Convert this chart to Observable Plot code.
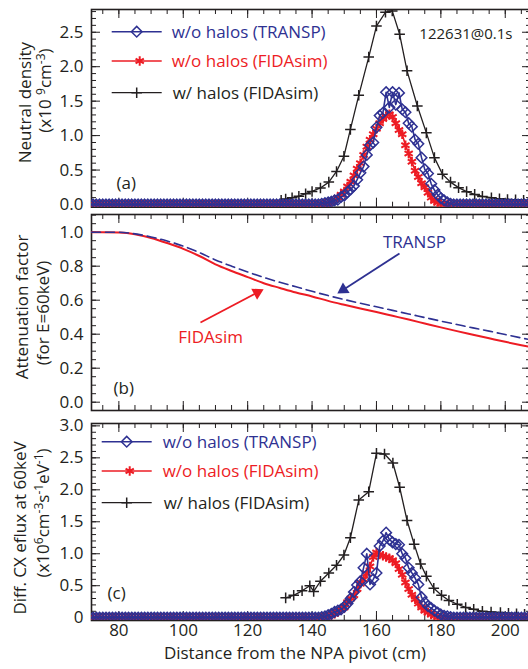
<!DOCTYPE html>
<html><head><meta charset="utf-8">
<script src="https://cdn.jsdelivr.net/npm/d3@7"></script>
<script src="https://cdn.jsdelivr.net/npm/@observablehq/plot@0.6"></script>
<style>
html,body{margin:0;padding:0;background:#fff;overflow:hidden;}
#chart{position:relative;width:528px;height:669px;overflow:hidden;}
#chart svg{position:absolute;left:0;max-width:none;overflow:visible;}
</style></head><body><div id="chart"></div>
<script>
// ---------------- data ----------------
const seriesNames = ["w/o halos (TRANSP)", "w/o halos (FIDAsim)", "w/ halos (FIDAsim)"];
const panelTags = ["(a)", "(b)", "(c)"];
const shotLabel = "122631@0.1s";
const yTitlesA = ["Neutral density", "(x10 ^9cm^-3)"];
const yTitlesB = ["Attenuation factor", "(for E=60keV)"];
const yTitlesC = ["Diff. CX eflux at 60keV", "(x10^6cm^-3s^-1eV^-1)"];
const xTitle = "Distance from the NPA pivot (cm)";

const xTicks = [80, 100, 120, 140, 160, 180, 200];
const xTickLabels = ["80", "100", "120", "140", "160", "180", "200"];
const yTicksA = [0, 0.5, 1, 1.5, 2, 2.5];
const yTickLabelsA = ["0.0", "0.5", "1.0", "1.5", "2.0", "2.5"];
const yTicksB = [0, 0.2, 0.4, 0.6, 0.8, 1.0];
const yTickLabelsB = ["0.0", "0.2", "0.4", "0.6", "0.8", "1.0"];
const yTicksC = [0, 0.5, 1, 1.5, 2, 2.5, 3];
const yTickLabelsC = ["0", "0.5", "1.0", "1.5", "2.0", "2.5", "3.0"];

// shared grid (cm) of the two "w/o halos" series
const gridX = [71,72,73,74,75,76,77,78,79,80,81,82,83,84,85,86,87,88,89,90,
 91,92,93,94,95,96,97,98,99,100,101,102,103,104,105,106,107,108,109,110,
 111,112,113,114,115,116,117,118,119,120,121,122,123,124,125,126,127,128,129,130,
 131,132,133,134,135,136,137,138,139,140,141,142,143,144,145,146,147,148,149,150,
 151,152,153,154,155,156,157,158,159,160,161,162,163,164,165,166,167,168,169,170,
 171,172,173,174,175,176,177,178,179,180,181,182,183,184,185,186,187,188,189,190,
 191,192,193,194,195,196,197,198,199,200,201,202,203,204,205,206,207,208];

// (a) neutral density, 1e9 cm^-3
const densTRANSP = [
 0,0,0,0,0,0,0,0,0,0, 0,0,0,0,0,0,0,0,0,0, 0,0,0,0,0,0,0,0,0,0, 0,0,0,0,0,0,0,0,0,0,
 0,0,0,0,0,0,0,0,0,0, 0,0,0,0,0,0,0,0,0,0, 0,0,0,0,0,0,0,0,0,0,
 0,0,0.01,0.02,0.03,0.04,0.06,0.07,0.11,0.13,
 0.18,0.22,0.27,0.36,0.46,0.55,0.72,0.86,0.90,1.12,
 1.29,1.33,1.63,1.41,1.63,1.45,1.62,1.38,1.34,1.18,
 1.13,0.94,0.88,0.68,0.51,0.45,0.30,0.21,0.14,0.09,
 0.06,0.03,0.01,0,0,0,0,0,0,0,
 0,0,0,0,0,0,0,0,0,0, 0,0,0,0,0,0,0,0];
const densFIDA = [
 0,0,0,0,0,0,0,0,0,0, 0,0,0,0,0,0,0,0,0,0, 0,0,0,0,0,0,0,0,0,0, 0,0,0,0,0,0,0,0,0,0,
 0,0,0,0,0,0,0,0,0,0, 0,0,0,0,0,0,0,0,0,0, 0,0,0,0,0,0,0,0,0,0,
 0,0,0.005,0.01,0.02,0.04,0.07,0.10,0.14,0.19,
 0.26,0.33,0.42,0.52,0.60,0.72,0.84,0.94,1.02,1.10,
 1.18,1.24,1.28,1.31,1.27,1.18,1.08,1.02,0.86,0.74,
 0.62,0.49,0.40,0.31,0.25,0.17,0.10,0.05,0.03,0.01,
 0,0,0,0,0,0,0,0,0,0,
 0,0,0,0,0,0,0,0,0,0, 0,0,0,0,0,0,0,0];
const densHaloX = [130.4,131.8,133.8,135.9,138.0,140.0,142.6,145.2,147.6,149.9,
 151.9,154.5,157.6,160.0,162.8,164.9,167.2,169.5,172.7,175.5,
 178.0,180.5,183.0,185.5,188.0,190.5,192.9,195.7,198.2,200.7,203.2,205.7];
const densHalo = [0.06,0.08,0.097,0.12,0.157,0.19,0.24,0.325,0.48,0.70,
 1.09,1.585,2.14,2.59,2.79,2.81,2.47,1.94,1.43,1.04,
 0.68,0.44,0.325,0.245,0.187,0.147,0.118,0.098,0.083,0.073,0.068,0.063];

// (b) attenuation factor for E = 60 keV
const attX = [71.5,75,80,85,90,95,100,105,110,115,120,125,130,135,140,145,150,155,160,165,170,175,180,185,190,195,200,205,208.1];
const attFIDA = [1.0,1.0,0.998,0.988,0.966,0.936,0.902,0.86,0.811,0.772,0.736,0.70,0.672,0.645,0.622,0.596,0.573,0.551,0.530,0.508,0.486,0.463,0.440,0.418,0.397,0.376,0.355,0.335,0.323];
const attTRANSP = [1.0,1.0,1.0,0.99,0.972,0.948,0.918,0.88,0.837,0.80,0.766,0.734,0.705,0.679,0.652,0.627,0.604,0.582,0.561,0.540,0.519,0.498,0.477,0.457,0.437,0.418,0.398,0.378,0.366];
const annLabels = ["TRANSP", "FIDAsim"];
const annX = [171.8, 108.5], annY = [0.94, 0.382];
const arrowFromX = [167.15, 105.35], arrowFromY = [0.875, 0.469];
const arrowHeadX = [149.7, 123.0], arrowHeadY = [0.662, 0.645];

// (c) differential CX efflux at 60 keV, 1e6 cm^-3 s^-1 eV^-1
const effTRANSP = [
 0,0,0,0,0,0,0,0,0,0, 0,0,0,0,0,0,0,0,0,0, 0,0,0,0,0,0,0,0,0,0, 0,0,0,0,0,0,0,0,0,0,
 0,0,0,0,0,0,0,0,0,0, 0,0,0,0,0,0,0,0,0,0, 0,0,0,0,0,0,0,0,0,0,
 0,0,0.01,0.02,0.04,0.06,0.09,0.11,0.13,0.17,
 0.22,0.30,0.40,0.51,0.57,0.78,1.00,0.52,0.60,0.70,
 1.12,1.20,1.33,1.22,1.18,1.15,1.14,1.00,0.93,0.78,
 0.70,0.62,0.52,0.32,0.24,0.18,0.15,0.11,0.08,0.05,
 0.03,0.02,0.01,0,0,0,0,0,0,0,
 0,0,0,0,0,0,0,0,0,0, 0,0,0,0,0,0,0,0];
const effFIDA = [
 0,0,0,0,0,0,0,0,0,0, 0,0,0,0,0,0,0,0,0,0, 0,0,0,0,0,0,0,0,0,0, 0,0,0,0,0,0,0,0,0,0,
 0,0,0,0,0,0,0,0,0,0, 0,0,0,0,0,0,0,0,0,0, 0,0,0,0,0,0,0,0,0,0,
 0,0,0,0.01,0.02,0.04,0.06,0.09,0.12,0.16,
 0.24,0.30,0.35,0.45,0.53,0.60,0.69,0.80,0.95,1.02,
 0.99,0.97,0.95,0.93,0.90,0.85,0.76,0.67,0.55,0.45,
 0.36,0.29,0.22,0.16,0.11,0.08,0.05,0.03,0.01,0,
 0,0,0,0,0,0,0,0,0,0,
 0,0,0,0,0,0,0,0,0,0, 0,0,0,0,0,0,0,0];
const effHaloX = [131.8,134.3,136.9,139.3,140.5,142.6,145.2,147.6,149.9,151.9,
 154.5,157.6,160.0,162.5,165.1,167.2,169.5,171.7,173.7,175.5,
 177.8,180.2,182.5,185.1,187.7,190.2,192.9,195.6,198.5,201.0,203.5,206.0];
const effHalo = [0.31,0.35,0.42,0.50,0.41,0.57,0.70,0.82,0.98,1.25,
 1.84,1.97,2.57,2.56,2.42,2.04,1.52,1.15,0.84,0.65,
 0.46,0.35,0.27,0.21,0.16,0.13,0.10,0.09,0.08,0.07,0.06,0.055];

// ---------------- styling ----------------
const INK = "#231f20", BLUE = "#2e3192", RED = "#ed1c24";
const FONT = "'Open Sans', Lato, sans-serif";
const W = 540, ML = 91, MR = 9, FW = W - ML - MR;
const xDomain = [71.5, 208.15];
const xMinor = d3.range(75, 206, 5);

const rows = (xs, ys) => xs.map((x, i) => ({x, y: ys[i]}));
const fmt = (ticks, labels) => d => labels[ticks.findIndex(t => Math.abs(t - d) < 1e-9)];

function frameTicks(frameH, yMajor, yMinor) {
  return [
    Plot.tickY(yMajor, {y: d => d, insetRight: FW - 9, stroke: INK}),
    Plot.tickY(yMinor, {y: d => d, insetRight: FW - 5, stroke: INK}),
    Plot.tickY(yMajor, {y: d => d, insetLeft: FW - 9, stroke: INK}),
    Plot.tickY(yMinor, {y: d => d, insetLeft: FW - 5, stroke: INK}),
    Plot.tickX(xTicks, {x: d => d, insetBottom: frameH - 9, stroke: INK}),
    Plot.tickX(xMinor, {x: d => d, insetBottom: frameH - 5, stroke: INK}),
    Plot.tickX(xTicks, {x: d => d, insetTop: frameH - 9, stroke: INK}),
    Plot.tickX(xMinor, {x: d => d, insetTop: frameH - 5, stroke: INK}),
    Plot.frame({stroke: INK, strokeWidth: 1.6})
  ];
}
const symbolStyle = [
  {color: BLUE, symbol: "diamond2", r: 4.8, sw: 1.5, lw: 1.6},
  {color: RED, symbol: "asterisk", r: 4.5, sw: 2, lw: 1.6},
  {color: INK, symbol: "plus", r: 3.5, sw: 1.5, lw: 1.3}
];
function series(data, k) {
  const s = symbolStyle[k];
  return [
    Plot.line(data, {x: "x", y: "y", stroke: s.color, strokeWidth: s.lw, clip: true}),
    Plot.dot(data, {x: "x", y: "y", symbol: s.symbol, r: s.r, stroke: s.color, strokeWidth: s.sw, fill: "none", clip: true})
  ];
}
function yTitle(lines, off) {
  return lines.map((t, i) => Plot.text([t], {frameAnchor: "left", text: d => d, rotate: -90,
    dx: off[i][0], dy: off[i][1], fontSize: 17, fill: INK, textAnchor: "middle"}));
}
function tag(t, dx, dy) {
  return Plot.text([t], {frameAnchor: "bottom-left", text: d => d, dx, dy, textAnchor: "start", fontSize: 17, fill: INK});
}

function panel({top, height, mt, mb, yDomain, marks}) {
  const svg = Plot.plot({
    width: W, height, marginLeft: ML, marginRight: MR, marginTop: mt, marginBottom: mb,
    x: {domain: xDomain, axis: null}, y: {domain: yDomain, axis: null},
    style: {fontFamily: FONT, fontSize: "17px", color: INK, background: "transparent"},
    marks
  });
  svg.style.top = top + "px";
  svg.style.maxWidth = "none";
  svg.style.overflow = "visible";
  supify(svg);
  document.getElementById("chart").appendChild(svg);
  return svg;
}
function supify(svg) {
  svg.querySelectorAll("text").forEach(t => {
    const s = t.textContent;
    if (!s.includes("^")) return;
    const parts = s.split(/(\^-?\d+)/);
    while (t.firstChild) t.removeChild(t.firstChild);
    let raised = false;
    for (const p of parts) {
      if (!p) continue;
      const ts = document.createElementNS("http://www.w3.org/2000/svg", "tspan");
      if (p[0] === "^") {
        ts.textContent = p.slice(1);
        ts.setAttribute("font-size", "12");
        if (!raised) ts.setAttribute("dy", "-6");
        raised = true;
      } else {
        ts.textContent = p;
        if (raised) ts.setAttribute("dy", "6");
        raised = false;
      }
      t.appendChild(ts);
    }
  });
}

// ---------------- panel (a) ----------------
const hA = 197.7;
panel({top: 0, height: 210, mt: 9, mb: 3.3, yDomain: [-0.039, 2.83], marks: [
  ...frameTicks(hA, yTicksA, d3.range(0, 2.81, 0.1)),
  Plot.axisY({ticks: yTicksA, tickFormat: fmt(yTicksA, yTickLabelsA), tickSize: 0, tickPadding: 8, fontSize: 17, fill: INK, label: null}),
  ...series(rows(densHaloX, densHalo), 2),
  ...series(rows(gridX, densFIDA), 1),
  ...series(rows(gridX, densTRANSP), 0),
  ...yTitle(yTitlesA, [[-66, -5.75], [-46, -17.75]]),
  tag(panelTags[0], 25, -18.5),
  Plot.text([shotLabel], {frameAnchor: "top-right", text: d => d, dx: -19, dy: 19, textAnchor: "end", fontSize: 15, fill: INK})
]});

// ---------------- panel (b) ----------------
const hB = 196;
const ann = annLabels.map((label, i) => ({label, x: annX[i], y: annY[i],
  x1: arrowFromX[i], y1: arrowFromY[i], x2: arrowHeadX[i], y2: arrowHeadY[i], color: [BLUE, RED][i], angle: [237, 62][i]}));
panel({top: 210, height: 203, mt: 4, mb: 3, yDomain: [-0.0488, 1.104], marks: [
  ...frameTicks(hB, yTicksB, d3.range(0, 1.101, 0.05)),
  Plot.axisY({ticks: yTicksB, tickFormat: fmt(yTicksB, yTickLabelsB), tickSize: 0, tickPadding: 8, fontSize: 17, fill: INK, label: null}),
  Plot.line(rows(attX, attFIDA), {x: "x", y: "y", stroke: RED, strokeWidth: 2, curve: "monotone-x", clip: true}),
  Plot.line(rows(attX, attTRANSP), {x: "x", y: "y", stroke: BLUE, strokeWidth: 1.6, strokeDasharray: "9,5", curve: "monotone-x", clip: true}),
  Plot.link(ann, {x1: "x1", y1: "y1", x2: "x2", y2: "y2", stroke: d => d.color, strokeWidth: 1.8}),
  Plot.dot(ann, {x: "x2", y: "y2", symbol: "triangle", r: 4.6, fill: d => d.color, stroke: "none", rotate: d => d.angle}),
  Plot.text(ann, {x: "x", y: "y", text: "label", fill: d => d.color, fontSize: 17}),
  ...yTitle(yTitlesB, [[-69.3, -5.5], [-47.7, 0.5]]),
  tag(panelTags[1], 22, -17)
]});

// ---------------- panel (c) ----------------
const hC = 197;
panel({top: 413, height: 256, mt: 10, mb: 49, yDomain: [-0.044, 3.037], marks: [
  ...frameTicks(hC, yTicksC, d3.range(0, 3.01, 0.1)),
  Plot.axisY({ticks: yTicksC, tickFormat: fmt(yTicksC, yTickLabelsC), tickSize: 0, tickPadding: 8, fontSize: 17, fill: INK, label: null}),
  Plot.axisX({ticks: xTicks, tickFormat: fmt(xTicks, xTickLabels), tickSize: 0, tickPadding: 3, fontSize: 17, fill: INK, label: null}),
  ...series(rows(effHaloX, effHalo), 2),
  ...series(rows(gridX, effFIDA), 1),
  ...series(rows(gridX, effTRANSP), 0),
  ...yTitle(yTitlesC, [[-71, 6], [-47.7, -9]]),
  tag(panelTags[2], 16, -22),
  Plot.text([xTitle], {frameAnchor: "bottom", text: d => d, dx: -16.5, dy: 38, fontSize: 17, fill: INK})
]});

// ---------------- legends (overlay) ----------------
const lg = d3.select("#chart").append("svg").attr("width", 528).attr("height", 669)
  .style("top", "0px").style("font-family", FONT).style("pointer-events", "none");
const d3sym = {diamond2: d3.symbolDiamond2, asterisk: d3.symbolAsterisk, plus: d3.symbolPlus};
function legend(x0, rowsY, textX) {
  seriesNames.forEach((name, i) => {
    const s = symbolStyle[i], y = rowsY[i];
    lg.append("line").attr("x1", x0).attr("x2", x0 + 50).attr("y1", y).attr("y2", y)
      .attr("stroke", s.color).attr("stroke-width", s.lw);
    lg.append("path").attr("d", d3.symbol(d3sym[s.symbol], Math.PI * s.r * s.r)())
      .attr("transform", `translate(${x0 + 25 + (i === 1 ? 3 : 0)},${y})`)
      .attr("fill", "none").attr("stroke", s.color).attr("stroke-width", s.sw);
    lg.append("text").attr("x", textX + (i === 2 ? 1 : 0)).attr("y", y).attr("dy", "0.35em")
      .attr("font-size", 17).attr("fill", s.color).text(name);
  });
}
legend(111.7, [31.7, 61, 92.7], 171.7);
legend(101.7, [441.7, 471, 502.7], 162.7);
</script></body></html>
